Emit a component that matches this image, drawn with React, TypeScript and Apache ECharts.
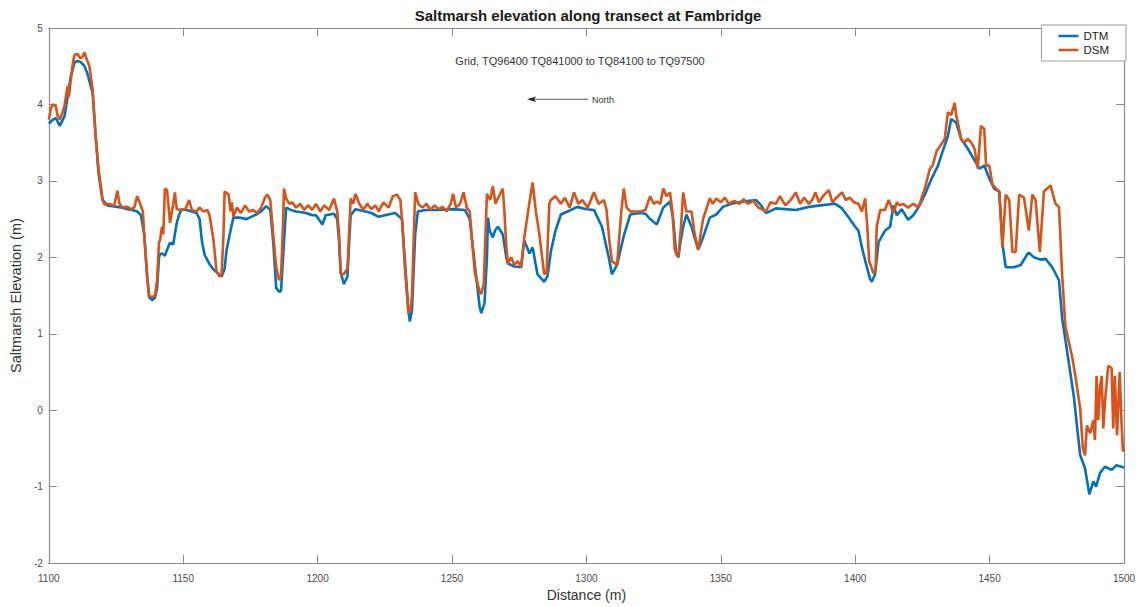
import React, { useEffect, useRef } from "react";
import * as echarts from "echarts";

// [distance (m), elevation (m)]
const dtmProfile: [number, number][] = [
  [1100, 3.75], [1101.5, 3.8], [1102.6, 3.82], [1104.1, 3.72], [1105.9, 3.85], [1107.0, 4.1], [1108.1, 4.35],
  [1109.6, 4.55], [1110.7, 4.57], [1112, 4.55], [1113.3, 4.5], [1114.4, 4.4], [1116.3, 4.15], [1117.4, 3.6],
  [1118.5, 3.1], [1120.0, 2.75], [1121.8, 2.68], [1123.6, 2.67], [1125.5, 2.66], [1127.3, 2.65], [1129.2, 2.63],
  [1131.0, 2.62], [1132.9, 2.6], [1134.3, 2.55], [1135.5, 2.3], [1136.6, 1.75], [1137.3, 1.48], [1138.4, 1.44],
  [1139.5, 1.47], [1140.3, 1.6], [1141.0, 2.0], [1141.4, 2.04], [1142.1, 2.05], [1143.2, 2.02], [1144.0, 2.1],
  [1145.1, 2.19], [1146.3, 2.17], [1147.6, 2.45], [1148.5, 2.56], [1149.5, 2.63], [1151.3, 2.62], [1153.2, 2.6],
  [1155.0, 2.58], [1156.1, 2.5], [1157, 2.2], [1158.0, 2.03], [1159.8, 1.91], [1161.3, 1.84], [1163.2, 1.78],
  [1164.3, 1.75], [1165.4, 1.85], [1166.1, 2.09], [1167.6, 2.35], [1168.7, 2.52], [1170.9, 2.52], [1173.5, 2.5],
  [1175.3, 2.53], [1177.2, 2.56], [1179, 2.6], [1180.9, 2.67], [1182.4, 2.62], [1183.5, 2.2], [1184.6, 1.6],
  [1185.7, 1.55], [1186.4, 1.56], [1187.5, 2.2], [1188.3, 2.65], [1190, 2.62], [1192.0, 2.6], [1195.7, 2.58],
  [1198, 2.55], [1199.4, 2.55], [1201.8, 2.43], [1203, 2.55], [1206.1, 2.57], [1207.3, 2.5], [1208.0, 2.2],
  [1208.6, 1.8], [1209.8, 1.65], [1211.1, 1.75], [1212.3, 2.55], [1214.1, 2.63], [1217.8, 2.6], [1220, 2.58],
  [1222.7, 2.53], [1225, 2.55], [1228.9, 2.58], [1231.4, 2.5], [1232.6, 1.9], [1233.8, 1.3], [1234.3, 1.16],
  [1235.1, 1.3], [1236.3, 2.3], [1237.3, 2.6], [1240, 2.62], [1244.9, 2.62], [1250.4, 2.63], [1254.8, 2.62],
  [1256.6, 2.5], [1258.5, 1.9], [1260.3, 1.35], [1260.9, 1.27], [1262.1, 1.4], [1263.0, 2.0], [1263.4, 2.52],
  [1264, 2.35], [1265.2, 2.26], [1266, 2.35], [1267.1, 2.4], [1268.9, 2.3], [1270.2, 2.0], [1270.8, 1.92],
  [1273.2, 1.88], [1275.7, 1.87], [1276.9, 2.22], [1278.8, 2.05], [1280.0, 2.13], [1281.8, 1.78], [1284.3, 1.68],
  [1285.5, 1.75], [1286.8, 2.08], [1288.5, 2.35], [1290.5, 2.56], [1293, 2.6], [1296.6, 2.66], [1300, 2.63],
  [1302.8, 2.62], [1305.8, 2.4], [1308.3, 2.0], [1309.5, 1.78], [1311.4, 1.9], [1313.9, 2.28], [1316.3, 2.56],
  [1320.0, 2.58], [1322, 2.57], [1323.7, 2.5], [1326.2, 2.43], [1328.6, 2.65], [1331.1, 2.73], [1332.3, 2.5],
  [1333.4, 2.05], [1334.2, 2.0], [1335, 2.2], [1336.0, 2.4], [1337.2, 2.56], [1339.1, 2.4], [1340.3, 2.25],
  [1341.6, 2.1], [1343.4, 2.26], [1345.9, 2.52], [1348.3, 2.56], [1350.8, 2.66], [1354, 2.7], [1358.2, 2.73],
  [1363.1, 2.75], [1365, 2.68], [1366.8, 2.58], [1370.5, 2.64], [1374, 2.63], [1377.9, 2.62], [1382.8, 2.66],
  [1387, 2.68], [1392.6, 2.7], [1395.1, 2.64], [1397.6, 2.52], [1400.0, 2.4], [1401.2, 2.35], [1402.5, 2.13],
  [1403.7, 1.96], [1405.5, 1.72], [1406.2, 1.68], [1407.4, 1.78], [1408.7, 2.2], [1411.1, 2.35], [1413.0, 2.4],
  [1414.2, 2.68], [1415.5, 2.55], [1417.3, 2.63], [1419.7, 2.49], [1421.6, 2.55], [1423.5, 2.65], [1425.9, 2.82],
  [1428.4, 3.03], [1430.8, 3.2], [1432.0, 3.33], [1434.5, 3.59], [1435.7, 3.81], [1437.6, 3.76], [1439.4, 3.55],
  [1441.9, 3.42], [1444.4, 3.27], [1446.2, 3.16], [1448.0, 3.2], [1449.9, 3.03], [1451.7, 2.9], [1453.6, 2.86],
  [1454.8, 2.17], [1456.0, 1.87], [1459.1, 1.87], [1461.6, 1.9], [1464.0, 2.04], [1464.6, 2.06], [1466.5, 2.0],
  [1469.0, 1.97], [1470.8, 1.98], [1473.3, 1.87], [1475.8, 1.7], [1477.0, 1.2], [1478.2, 0.92], [1481.3, 0.19],
  [1483.7, -0.59], [1485.5, -0.76], [1487.1, -1.1], [1488.6, -0.93], [1489.6, -1.0], [1491.1, -0.82],
  [1492.9, -0.74], [1495.4, -0.78], [1497.2, -0.72], [1499.0, -0.74], [1500, -0.75],
];

const dsmProfile: [number, number][] = [
  [1100, 3.8], [1100.8, 3.95], [1101.5, 4.0], [1102.6, 3.98], [1103.3, 3.85], [1104.1, 3.8], [1105.2, 3.9],
  [1105.9, 4.0], [1107.0, 4.24], [1107.5, 4.1], [1108.1, 4.3], [1109.0, 4.55], [1109.6, 4.65], [1110.7, 4.66],
  [1111.8, 4.6], [1112.5, 4.62], [1113.3, 4.68], [1114.0, 4.6], [1115.1, 4.5], [1116.3, 4.2], [1117.4, 3.6],
  [1118.5, 3.16], [1120.0, 2.75], [1120.7, 2.69], [1122.5, 2.7], [1124.3, 2.67], [1125.5, 2.87], [1126.3, 2.7],
  [1127.5, 2.65], [1129.2, 2.66], [1130.5, 2.63], [1131.8, 2.65], [1132.9, 2.8], [1134.0, 2.7], [1135.0, 2.6],
  [1135.5, 2.3], [1136.6, 1.75], [1137.3, 1.5], [1138.4, 1.48], [1139.5, 1.5], [1140.3, 1.7], [1141.0, 2.2],
  [1141.4, 2.22], [1142.1, 2.4], [1142.6, 2.3], [1143.2, 2.9], [1144.0, 2.88], [1145.1, 2.45], [1146.3, 2.7],
  [1146.9, 2.85], [1147.6, 2.63], [1149.5, 2.62], [1151.0, 2.64], [1152.2, 2.75], [1153.2, 2.62], [1155.0, 2.6],
  [1156.1, 2.65], [1157.5, 2.6], [1159.0, 2.62], [1159.8, 2.55], [1161.3, 2.22], [1162.4, 1.82], [1163.5, 1.75],
  [1164.3, 1.78], [1165.0, 2.3], [1165.4, 2.86], [1166.9, 2.82], [1167.6, 2.6], [1168.1, 2.72], [1168.7, 2.53],
  [1170, 2.65], [1171.5, 2.58], [1173.0, 2.68], [1174.5, 2.6], [1176, 2.62], [1177.5, 2.58], [1179, 2.65],
  [1180.4, 2.78], [1181.3, 2.82], [1182.4, 2.75], [1183.5, 2.3], [1184.6, 1.87], [1185.7, 1.7], [1186.4, 1.75],
  [1187.2, 2.5], [1187.5, 2.9], [1188.3, 2.77], [1189.5, 2.7], [1190.5, 2.72], [1192.0, 2.65], [1193.5, 2.7],
  [1195, 2.62], [1196.5, 2.68], [1198, 2.62], [1199.4, 2.7], [1201, 2.6], [1202.5, 2.68], [1204.3, 2.62],
  [1206.1, 2.77], [1207.3, 2.6], [1208.0, 2.3], [1208.6, 1.78], [1209.8, 1.78], [1211.1, 1.85], [1212.3, 2.77],
  [1213.2, 2.7], [1214.1, 2.83], [1215.5, 2.7], [1217.0, 2.62], [1218.5, 2.7], [1220, 2.63], [1221.5, 2.68],
  [1222.7, 2.6], [1224.5, 2.72], [1226.4, 2.65], [1228.0, 2.8], [1229.5, 2.82], [1230.8, 2.75], [1231.4, 2.5],
  [1232.6, 1.8], [1233.8, 1.27], [1234.5, 1.3], [1235.1, 1.5], [1236.3, 2.85], [1237.5, 2.7], [1239, 2.65],
  [1240.5, 2.7], [1242, 2.62], [1243.5, 2.68], [1245, 2.63], [1246.5, 2.66], [1248, 2.6], [1249.5, 2.7],
  [1250.4, 2.83], [1251.5, 2.65], [1253, 2.7], [1254.3, 2.85], [1255.5, 2.65], [1256.6, 2.6], [1257.5, 2.2],
  [1258.5, 1.8], [1260.3, 1.55], [1260.9, 1.52], [1261.8, 1.65], [1263.0, 2.83], [1264.2, 2.75], [1265.2, 2.93],
  [1266.2, 2.7], [1267.1, 2.77], [1268.9, 2.9], [1269.5, 2.6], [1270.2, 2.15], [1270.8, 1.92], [1272, 2.0],
  [1273.2, 1.9], [1274.5, 1.95], [1275.7, 1.87], [1276.9, 2.26], [1278.3, 2.6], [1280.0, 2.98], [1281.2, 2.6],
  [1282.5, 2.3], [1284.3, 1.78], [1285.2, 1.8], [1286.2, 2.7], [1286.8, 2.75], [1288.5, 2.8], [1290.5, 2.7],
  [1292, 2.78], [1293.8, 2.65], [1295.4, 2.85], [1297, 2.7], [1298.5, 2.75], [1300.5, 2.65], [1302.8, 2.85],
  [1304.5, 2.7], [1306.5, 2.75], [1307.5, 2.62], [1308.6, 2.2], [1309.5, 1.95], [1311.4, 1.9], [1313.0, 2.6],
  [1313.9, 2.9], [1315, 2.65], [1316.3, 2.6], [1318, 2.6], [1320.0, 2.6], [1322, 2.62], [1323.7, 2.8],
  [1325, 2.7], [1326.2, 2.73], [1327.5, 2.7], [1328.6, 2.9], [1329.8, 2.8], [1331.1, 2.85], [1332.0, 2.6],
  [1332.9, 2.1], [1334.2, 2.0], [1335.2, 2.4], [1336.0, 2.85], [1337.2, 2.6], [1339.1, 2.6], [1340.3, 2.3],
  [1341.6, 2.1], [1343.4, 2.5], [1345.9, 2.77], [1347, 2.7], [1348.3, 2.77], [1350, 2.72], [1351.5, 2.78],
  [1353, 2.7], [1355, 2.74], [1357, 2.7], [1358.5, 2.76], [1360, 2.7], [1362, 2.74], [1364, 2.65],
  [1366.8, 2.6], [1368.5, 2.72], [1370.5, 2.7], [1372, 2.8], [1374, 2.68], [1376, 2.75], [1377.9, 2.85],
  [1379.5, 2.7], [1381, 2.78], [1382.8, 2.7], [1384, 2.75], [1385.2, 2.85], [1386.5, 2.72], [1388, 2.8],
  [1390.2, 2.88], [1391.5, 2.72], [1393, 2.78], [1395.1, 2.85], [1396.5, 2.75], [1398, 2.78], [1399.5, 2.72],
  [1401.2, 2.7], [1402.5, 2.6], [1403.7, 2.77], [1404.5, 2.4], [1405.2, 1.95], [1406.8, 1.79], [1407.6, 1.85],
  [1408.0, 2.4], [1409.3, 2.62], [1411.1, 2.62], [1412.4, 2.75], [1413.0, 2.7], [1414.2, 2.58], [1415.5, 2.72],
  [1416.5, 2.68], [1417.8, 2.7], [1419.7, 2.65], [1421.6, 2.7], [1423.5, 2.65], [1425.9, 2.9], [1427.8, 3.16],
  [1428.8, 3.2], [1430.3, 3.39], [1431.5, 3.45], [1433.3, 3.55], [1434.5, 3.9], [1435.7, 3.86], [1437.0, 4.02],
  [1437.6, 3.85], [1438.2, 3.76], [1439.4, 3.55], [1440.6, 3.5], [1441.9, 3.55], [1443.2, 3.5], [1444.4, 3.42],
  [1445.6, 3.16], [1446.8, 3.72], [1448.0, 3.68], [1448.7, 3.2], [1449.9, 3.2], [1451.1, 2.95], [1452.4, 2.9],
  [1453.6, 2.86], [1454.8, 2.13], [1456.0, 2.82], [1457.3, 2.75], [1458.5, 2.07], [1459.7, 2.07], [1461.0, 2.82],
  [1462.8, 2.78], [1464.6, 2.35], [1465.9, 2.82], [1467.1, 2.75], [1468.7, 2.07], [1470.2, 2.86], [1472.1, 2.92],
  [1472.7, 2.94], [1474.5, 2.7], [1475.8, 2.66], [1477.0, 1.77], [1478.2, 1.09], [1478.8, 1.0], [1480.7, 0.7],
  [1481.9, 0.45], [1483.7, 0.02], [1484.7, -0.5], [1485.5, -0.59], [1486.2, -0.2], [1487.4, -0.3], [1488.6, -0.13],
  [1489.2, -0.39], [1489.8, 0.45], [1490.4, -0.13], [1491.1, 0.3], [1491.7, 0.45], [1492.3, -0.24], [1492.9, 0.1],
  [1494.1, 0.58], [1495.4, 0.55], [1496.0, -0.24], [1496.6, 0.45], [1497.4, -0.33], [1498.4, 0.5], [1499.0, -0.1],
  [1499.6, -0.54], [1500, -0.5],
];

const seriesNames = ["DTM", "DSM"];
const xRange = [1100, 1500];
const yRange = [-2, 5];
const titleText = "Saltmarsh elevation along transect at Fambridge";
const gridNote = "Grid, TQ96400 TQ841000 to TQ84100 to TQ97500";
const arrowLabel = "North";

const FONT = "'Liberation Sans', Arial, Helvetica, sans-serif";
const AXIS_COLOR = "#8a8a8a";
const LABEL_COLOR = "#4a4a4a";

export default function App() {
  const ref = useRef<HTMLDivElement>(null);
  useEffect(() => {
    if (!ref.current) return;
    const chart = echarts.init(ref.current, undefined, { renderer: "svg" });
    const tick = { show: true, inside: true, length: 8, lineStyle: { color: AXIS_COLOR, width: 1 } };
    const line = { show: true, onZero: false, lineStyle: { color: AXIS_COLOR, width: 1.2 } };
    chart.setOption({
      animation: false,
      backgroundColor: "#ffffff",
      textStyle: { fontFamily: FONT },
      title: {
        text: titleText,
        left: 583,
        textAlign: "center",
        top: 3,
        textStyle: { fontSize: 15, fontWeight: "bold", color: "#1a1a1a", fontFamily: FONT },
      },
      legend: {
        data: seriesNames.map((n) => ({ name: n, icon: "rect" })),
        orient: "vertical",
        right: 20,
        top: 25,
        itemWidth: 20,
        itemHeight: 2.5,
        itemGap: 2,
        padding: [5, 17, 5, 17],
        borderColor: "#9a9a9a",
        borderWidth: 1,
        backgroundColor: "#ffffff",
        textStyle: { fontSize: 11.5, color: "#222", fontFamily: FONT },
        z: 10,
      },
      grid: { left: 41, right: 22, top: 28, bottom: 38, containLabel: false },
      xAxis: [
        {
          type: "value",
          min: xRange[0],
          max: xRange[1],
          interval: 50,
          position: "bottom",
          name: "Distance (m)",
          nameLocation: "middle",
          nameGap: 21,
          nameTextStyle: { fontSize: 14, color: "#333", fontFamily: FONT },
          axisLine: line,
          axisTick: tick,
          axisLabel: {
            color: LABEL_COLOR,
            fontSize: 10,
            margin: 10,
            fontFamily: FONT,
            formatter: (v: number) => String(v),
          },
          splitLine: { show: false },
        },
        {
          type: "value",
          min: xRange[0],
          max: xRange[1],
          interval: 50,
          position: "top",
          axisLine: line,
          axisTick: tick,
          axisLabel: { show: false },
          splitLine: { show: false },
        },
      ],
      yAxis: [
        {
          type: "value",
          min: yRange[0],
          max: yRange[1],
          interval: 1,
          position: "left",
          name: "Saltmarsh Elevation (m)",
          nameLocation: "middle",
          nameGap: 18,
          nameTextStyle: { fontSize: 14.5, color: "#333", fontFamily: FONT },
          axisLine: line,
          axisTick: tick,
          axisLabel: { color: LABEL_COLOR, fontSize: 10, margin: 6, fontFamily: FONT, formatter: (v: number) => String(v) },
          splitLine: { show: false },
        },
        {
          type: "value",
          min: yRange[0],
          max: yRange[1],
          interval: 1,
          position: "right",
          axisLine: line,
          axisTick: tick,
          axisLabel: { show: false },
          splitLine: { show: false },
        },
      ],
      series: [
        {
          name: seriesNames[0],
          type: "line",
          data: dtmProfile,
          showSymbol: false,
          symbol: "none",
          lineStyle: { color: "#0072BD", width: 2.6 },
          itemStyle: { color: "#0072BD" },
          xAxisIndex: 0,
          yAxisIndex: 0,
        },
        {
          name: seriesNames[1],
          type: "line",
          data: dsmProfile,
          showSymbol: false,
          symbol: "none",
          lineStyle: { color: "#D95319", width: 2.6 },
          itemStyle: { color: "#D95319" },
          xAxisIndex: 0,
          yAxisIndex: 0,
        },
      ],
      graphic: [
        {
          type: "text",
          x: 580,
          y: 61,
          style: { text: gridNote, fontSize: 11, fill: "#333", align: "center", verticalAlign: "middle", fontFamily: FONT },
        },
        {
          type: "line",
          shape: { x1: 533, y1: 99.3, x2: 588, y2: 99.3 },
          style: { stroke: "#333", lineWidth: 0.8 },
        },
        {
          type: "polygon",
          shape: { points: [[527, 99.3], [536, 96.6], [534, 99.3], [536, 102]] },
          style: { fill: "#222" },
        },
        {
          type: "text",
          x: 592,
          y: 100,
          style: { text: arrowLabel, fontSize: 9, fill: "#333", align: "left", verticalAlign: "middle", fontFamily: FONT },
        },
      ],
    });
    return () => chart.dispose();
  }, []);
  return <div ref={ref} style={{ position: "absolute", left: 0, top: 0, width: 1146, height: 607 }} />;
}
